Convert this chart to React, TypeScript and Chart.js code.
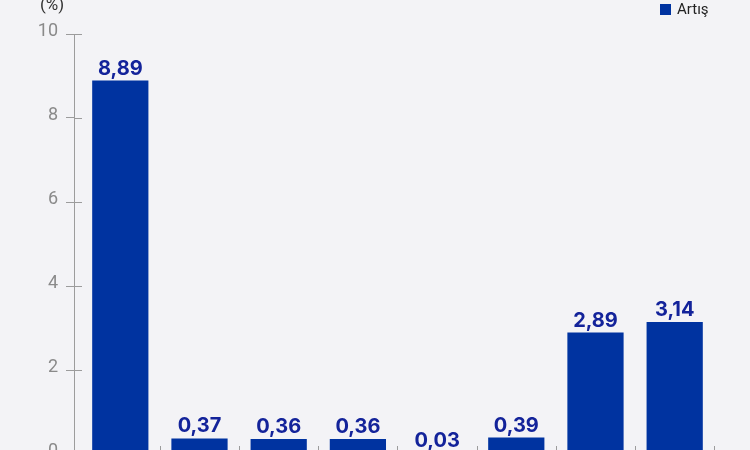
import React, { useEffect, useRef } from "react";
import { Chart, registerables } from "chart.js";

Chart.register(...registerables);

const categories = ["K1", "K2", "K3", "K4", "K5", "K6", "K7", "K8"];
const artisValues = [8.89, 0.37, 0.36, 0.36, 0.03, 0.39, 2.89, 3.14];
const yMin = 0;
const yMax = 10;
const yStep = 2;
const seriesLabel = "Artış";
const unitLabel = "(%)";

const barColor = "#0033a0";
const labelColor = "#13239a";
const axisColor = "#9c9c9c";
const tickColor = "#8a8a8a";
const bgColor = "#f3f3f6";

const formatValue = (v: number) => v.toFixed(2).replace(".", ",");

const overlayPlugin = {
  id: "overlay",
  afterDatasetsDraw(chart: any) {
    const { ctx } = chart;
    const xs = chart.scales.x;
    const ys = chart.scales.y;
    ctx.save();
    ctx.strokeStyle = axisColor;
    ctx.lineWidth = 1;
    // inner halves of y ticks
    ys.ticks.forEach((t: any) => {
      const py = Math.round(ys.getPixelForValue(t.value)) + 0.5;
      ctx.beginPath();
      ctx.moveTo(xs.left, py);
      ctx.lineTo(xs.left + 8, py);
      ctx.stroke();
    });
    // category boundary ticks on the x axis
    const zeroY = ys.getPixelForValue(0);
    for (let i = 0; i < categories.length; i++) {
      const px = Math.round(xs.getPixelForValue(i + 0.5)) + 0.5;
      ctx.beginPath();
      ctx.moveTo(px, zeroY - 8);
      ctx.lineTo(px, zeroY);
      ctx.stroke();
    }
    // value labels
    const meta = chart.getDatasetMeta(0);
    ctx.fillStyle = labelColor;
    ctx.font = "bold 20px Inter, Lato, sans-serif";
    ctx.textAlign = "center";
    ctx.textBaseline = "alphabetic";
    meta.data.forEach((bar: any, i: number) => {
      ctx.fillText(formatValue(artisValues[i]), bar.x, bar.y - 6);
    });
    ctx.restore();
  },
};

export default function App() {
  const canvasRef = useRef<HTMLCanvasElement | null>(null);

  useEffect(() => {
    document.body.style.margin = "0";
    const canvas = canvasRef.current;
    if (!canvas) return;
    const chart = new Chart(canvas, {
      type: "bar",
      data: {
        labels: categories,
        datasets: [
          {
            label: seriesLabel,
            data: artisValues,
            backgroundColor: barColor,
            barPercentage: 0.71,
            categoryPercentage: 1,
          },
        ],
      },
      options: {
        responsive: false,
        animation: false,
        layout: { padding: { top: 34, right: 36, left: 0, bottom: 0 } },
        plugins: {
          legend: { display: false },
          tooltip: { enabled: false },
        },
        scales: {
          x: {
            grid: { display: false },
            border: { display: false },
            ticks: { display: false },
            afterBuildTicks: (scale: any) => {
              scale._startValue = -0.5846;
              scale._valueRange = 8.081;
            },
            afterFit: (scale: any) => {
              scale.height = 26;
            },
          },
          y: {
            min: yMin,
            max: yMax,
            ticks: {
              stepSize: yStep,
              color: tickColor,
              font: { family: "Roboto", size: 18 },
              padding: 8,
              labelOffset: -3,
            },
            grid: {
              drawOnChartArea: false,
              color: axisColor,
              tickLength: 8,
            },
            border: { color: axisColor },
            afterFit: (scale: any) => {
              scale.width = 74;
            },
          },
        },
      },
      plugins: [overlayPlugin],
    });
    return () => chart.destroy();
  }, []);

  return (
    <div
      style={{
        position: "relative",
        width: 750,
        height: 450,
        overflow: "hidden",
        background: bgColor,
      }}
    >
      <canvas ref={canvasRef} width={750} height={480} style={{ display: "block" }} />
      <div
        style={{
          position: "absolute",
          left: 40,
          top: -6,
          fontFamily: "Roboto, sans-serif",
          fontSize: 17,
          color: "#333",
          lineHeight: "20px",
        }}
      >
        {unitLabel}
      </div>
      <div
        style={{
          position: "absolute",
          left: 660,
          top: 1,
          display: "flex",
          alignItems: "center",
          fontFamily: "Roboto, sans-serif",
          fontSize: 15,
          color: "#222",
          lineHeight: "16px",
        }}
      >
        <span
          style={{
            display: "inline-block",
            width: 11,
            height: 11,
            background: barColor,
            marginRight: 6,
          }}
        />
        {seriesLabel}
      </div>
    </div>
  );
}
